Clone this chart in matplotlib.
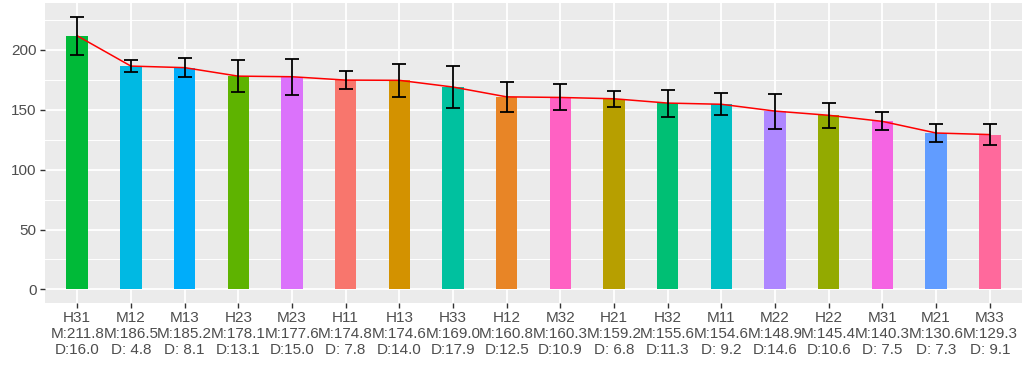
import numpy as np
import matplotlib
matplotlib.use("Agg")
import matplotlib.pyplot as plt

plt.rcParams['font.family'] = ['Liberation Sans', 'DejaVu Sans']

# groups in display order (sorted by mean, descending)
names = ["H31", "M12", "M13", "H23", "M23", "H11", "H13", "H33", "H12",
         "M32", "H21", "H32", "M11", "M22", "H22", "M31", "M21", "M33"]
means = [211.8, 186.5, 185.2, 178.1, 177.6, 174.8, 174.6, 169.0, 160.8,
         160.3, 159.2, 155.6, 154.6, 148.9, 145.4, 140.3, 130.6, 129.3]
sds = [16.0, 4.8, 8.1, 13.1, 15.0, 7.8, 14.0, 17.9, 12.5,
       10.9, 6.8, 11.3, 9.2, 14.6, 10.6, 7.5, 7.3, 9.1]


def hcl(h, c=100.0, l=65.0):
    # polar LUV -> sRGB, like R's hcl()
    xn, yn, zn = 95.047, 100.0, 108.883
    hr = np.radians(h)
    U = c * np.cos(hr)
    V = c * np.sin(hr)
    Y = yn * ((l + 16) / 116) ** 3 if l > 8 else yn * l / 903.3
    t = xn + 15 * yn + 3 * zn
    un, vn = 4 * xn / t, 9 * yn / t
    u = U / (13 * l) + un
    v = V / (13 * l) + vn
    X = 9.0 * Y * u / (4 * v)
    Z = -X / 3 - 5 * Y + 3 * Y / v
    X, Y, Z = X / 100, Y / 100, Z / 100
    r = 3.240479 * X - 1.537150 * Y - 0.498535 * Z
    g = -0.969256 * X + 1.875992 * Y + 0.041556 * Z
    b = 0.055648 * X - 0.204043 * Y + 1.057311 * Z

    def gam(x):
        x = min(max(x, 0), 1)
        return 12.92 * x if x <= 0.0031308 else 1.055 * x ** (1 / 2.4) - 0.055
    return (gam(r), gam(g), gam(b))


# ggplot default hue palette, levels in alphabetical order
levels = sorted(names)
hues = np.linspace(15, 375, len(levels) + 1)[:-1]
pal = {lev: hcl(hh) for lev, hh in zip(levels, hues)}
colors = [pal[n] for n in names]

labels = ["%s\nM:%5.1f\nD:%4.1f" % (n, m, d) for n, m, d in zip(names, means, sds)]

fig = plt.figure(figsize=(10.28, 3.67), dpi=100)
ax = fig.add_axes([45 / 1028, 1 - 303 / 367, 977 / 1028, 300 / 367])
ax.set_facecolor("#EBEBEB")

x = np.arange(len(names))
ax.bar(x, means, width=0.4, color=colors, zorder=2)
ax.plot(x, means, color="red", lw=1.1, zorder=3)
ax.errorbar(x, means, yerr=sds, fmt="none", ecolor="black", elinewidth=1.3,
            capsize=5.2, capthick=1.3, zorder=4)

ax.set_xlim(-0.6, len(names) - 1 + 0.6)
top = max(m + d for m, d in zip(means, sds))
ax.set_ylim(-0.05 * top, top * 1.05)

ax.set_yticks([0, 50, 100, 150, 200])
ax.set_yticks([25, 75, 125, 175, 225], minor=True)
ax.set_xticks(x)
ax.set_xticklabels(labels, linespacing=1.15)

ax.grid(which="major", color="white", lw=1.3, zorder=0)
ax.grid(which="minor", axis="y", color="white", lw=0.7, zorder=0)
ax.set_axisbelow(True)
for s in ax.spines.values():
    s.set_visible(False)

ax.tick_params(which="major", length=3.5, width=1.0, color="#333333",
               labelcolor="#4D4D4D", labelsize=11, pad=2.5)
ax.tick_params(which="minor", length=0)

fig.savefig("out.png", dpi=100)
